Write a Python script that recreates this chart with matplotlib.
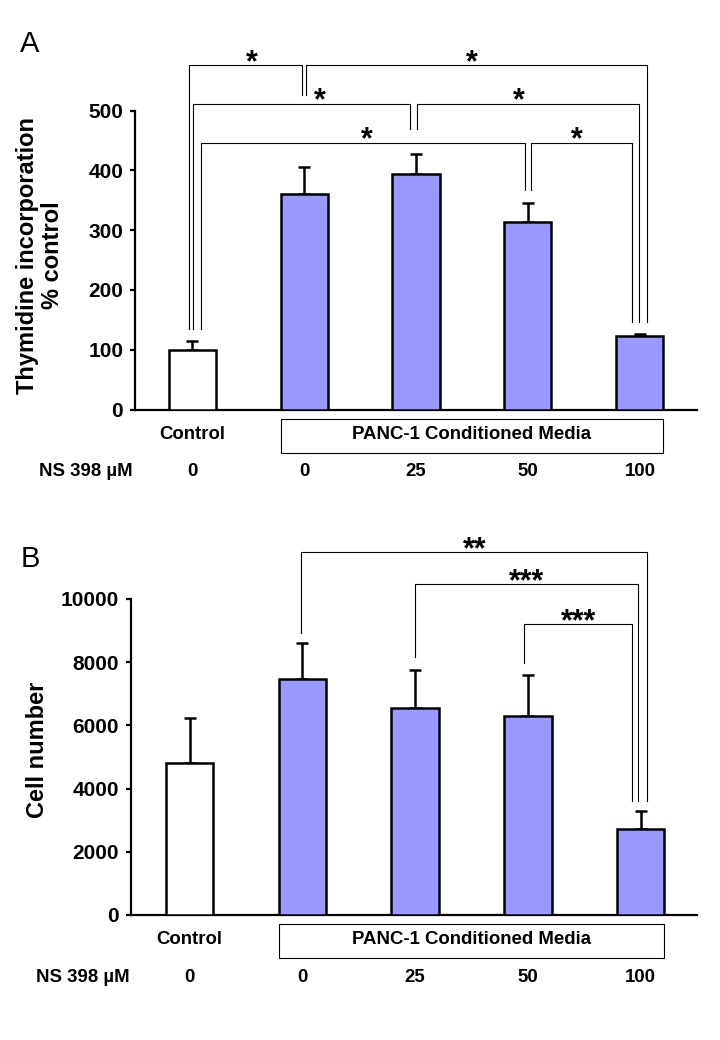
import matplotlib
matplotlib.use("Agg")
import numpy as np
import matplotlib.pyplot as plt
from matplotlib.patches import Rectangle

# data
dose_labels = ["0", "0", "25", "50", "100"]
thymidine = [100, 360, 394, 314, 123]
thymidine_err = [15, 46, 33, 31, 3]
cell_number = [4800, 7480, 6550, 6290, 2730]
cell_number_err = [1440, 1140, 1190, 1290, 570]
bar_colors = ["white", "#9999ff", "#9999ff", "#9999ff", "#9999ff"]

# brackets: x left, x right, level, left leg end, right leg end, star x, text
brackets_a = [
    (0.08, 2.97, 446, 134, 367, 1.56, "*"),
    (3.03, 3.93, 446, 367, 147, 3.44, "*"),
    (0.01, 1.95, 512, 134, 469, 1.14, "*"),
    (2.01, 3.99, 512, 469, 147, 2.92, "*"),
    (-0.025, 0.98, 576, 134, 527, 0.53, "*"),
    (1.02, 4.06, 576, 527, 147, 2.50, "*"),
]
brackets_b = [
    (0.99, 4.06, 11480, 8925, 3600, 2.53, "**"),
    (2.00, 3.98, 10467, 8176, 3600, 2.99, "***"),
    (2.97, 3.92, 9200, 7964, 3600, 3.45, "***"),
]

W, H = 720, 1040
plt.rcParams['font.family'] = ['Liberation Sans', 'DejaVu Sans']

fig = plt.figure(figsize=(W / 100, H / 100), dpi=100)


def px_axes(left, right, top, bottom):
    return fig.add_axes([left / W, 1 - bottom / H, (right - left) / W, (bottom - top) / H])


def panel(ax, values, errs, ymax, yticks, xlim, brackets):
    x = np.arange(len(values))
    ax.bar(x, values, width=0.42, color=bar_colors, edgecolor="black",
           linewidth=1.8, zorder=3)
    ax.errorbar(x, values, yerr=[np.zeros(len(errs)), errs], fmt="none",
                ecolor="black", elinewidth=1.8, capsize=4.3, capthick=1.8, zorder=2)
    ax.set_xlim(*xlim)
    ax.set_ylim(0, ymax)
    ax.set_yticks(yticks)
    ax.set_xticks([])
    for s in ["top", "right"]:
        ax.spines[s].set_visible(False)
    ax.spines["left"].set_linewidth(1.6)
    ax.spines["bottom"].set_linewidth(1.6)
    ax.tick_params(axis="y", direction="out", length=3.5, width=1.6, pad=5)
    for lab in ax.get_yticklabels():
        lab.set_fontweight("bold")
        lab.set_fontsize(15)

    for x1, x2, lev, e1, e2, sx, txt in brackets:
        ax.plot([x1, x1, x2, x2], [e1, lev, lev, e2], color="black", lw=0.8,
                clip_on=False, zorder=1)
        ax.annotate(txt, xy=(sx, lev), xytext=(0, -4), textcoords="offset points",
                    ha="center", va="baseline", fontsize=22, fontweight="bold",
                    annotation_clip=False)

    # labels under the axis
    ah = ax.get_position().height * H
    tr = ax.get_xaxis_transform()
    ax.text(0, -25 / ah, "Control", transform=tr, ha="center", va="center",
            fontsize=13.4, fontweight="bold")
    ax.add_patch(Rectangle((1 - 0.21, -43 / ah), 3.42, 34 / ah, transform=tr,
                           facecolor="white", edgecolor="black", lw=0.8, clip_on=False))
    ax.text(2.5, -25 / ah, "PANC-1 Conditioned Media", transform=tr, ha="center",
            va="center", fontsize=13.4, fontweight="bold")
    ax.text(-0.53, -62 / ah, "NS 398 \u00b5M", transform=tr, ha="right", va="center",
            fontsize=13.4, fontweight="bold")
    for i, d in enumerate(dose_labels):
        ax.text(i, -62 / ah, d, transform=tr, ha="center", va="center",
                fontsize=13.4, fontweight="bold")


ax_a = px_axes(135, 697, 110.7, 409.5)
panel(ax_a, thymidine, thymidine_err, 500, [0, 100, 200, 300, 400, 500],
      (-0.51, 4.51), brackets_a)
ax_b = px_axes(131, 697, 599, 915)
panel(ax_b, cell_number, cell_number_err, 10000, [0, 2000, 4000, 6000, 8000, 10000],
      (-0.52, 4.5), brackets_b)

fig.text(40 / W, 1 - 255 / H, "Thymidine incorporation\n% control", rotation=90,
         ha="center", va="center", fontsize=17, fontweight="bold",
         multialignment="center", linespacing=1.15)
fig.text(37 / W, 1 - 750 / H, "Cell number", rotation=90, ha="center", va="center",
         fontsize=17, fontweight="bold")
fig.text(30 / W, 1 - 44 / H, "A", ha="center", va="center", fontsize=21)
fig.text(30 / W, 1 - 559 / H, "B", ha="center", va="center", fontsize=21)

fig.savefig("out.png", dpi=100, facecolor="white")
